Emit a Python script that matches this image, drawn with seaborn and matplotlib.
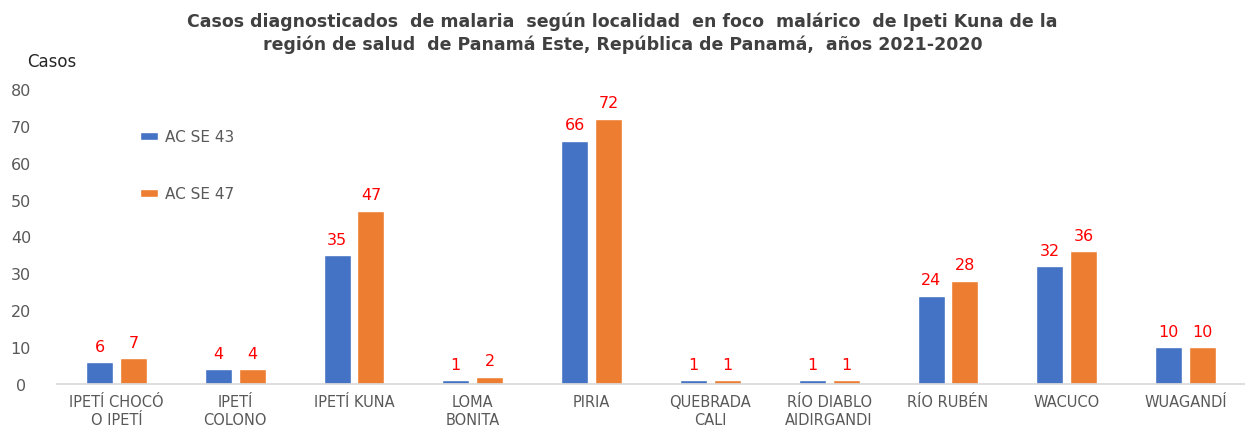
import matplotlib
matplotlib.use("Agg")
import matplotlib.pyplot as plt
import seaborn as sns
import pandas as pd

categories = ["IPETÍ CHOCÓ\nO IPETÍ", "IPETÍ\nCOLONO", "IPETÍ KUNA", "LOMA\nBONITA", "PIRIA",
              "QUEBRADA\nCALI", "RÍO DIABLO\nAIDIRGANDI", "RÍO RUBÉN", "WACUCO", "WUAGANDÍ"]
series_names = ["AC SE 43", "AC SE 47"]
se43 = [6, 4, 35, 1, 66, 1, 1, 24, 32, 10]
se47 = [7, 4, 47, 2, 72, 1, 1, 28, 36, 10]
yticks = [0, 10, 20, 30, 40, 50, 60, 70, 80]

df = pd.DataFrame({
    "Localidad": categories * 2,
    "Serie": [series_names[0]] * len(categories) + [series_names[1]] * len(categories),
    "Casos": se43 + se47,
})

sns.set_theme(style="white")
plt.rcParams['font.family'] = ['DejaVu Sans']

fig = plt.figure(figsize=(12.45, 4.27), dpi=100)
ax = fig.add_axes([57/1245, 42/427, 1 - 57/1245, 295/427])

sns.barplot(data=df, x="Localidad", y="Casos", hue="Serie", order=categories,
            hue_order=series_names, palette=["#4472C4", "#ED7D31"], saturation=1,
            width=0.57, gap=0.2, ax=ax, legend=True)

for cont in ax.containers:
    ax.bar_label(cont, labels=[f"{int(v)}" for v in cont.datavalues], padding=6,
                 color="#FF0000", fontsize=11.5)

ax.set_ylim(0, 80)
ax.set_yticks(yticks)
ax.set_xlabel("")
ax.set_ylabel("")
for s in ["top", "right", "left"]:
    ax.spines[s].set_visible(False)
ax.spines["bottom"].set_color("#D9D9D9")
ax.tick_params(axis="y", colors="#595959", labelsize=11.5, length=0, pad=26)
for lbl in ax.get_yticklabels():
    lbl.set_horizontalalignment("center")
ax.tick_params(axis="x", colors="#595959", labelsize=10.5, length=0, pad=7)
for lbl in ax.get_xticklabels():
    lbl.set_linespacing(1.25)

leg = ax.legend(loc="upper left", bbox_to_anchor=(0.058, 0.91), frameon=False,
                fontsize=11, labelspacing=2.75, handlelength=1.2, handleheight=0.5,
                handletextpad=0.45)
for t in leg.get_texts():
    t.set_color("#595959")

fig.text(27/1245, 1 - 62/427, "Casos", fontsize=12, color="#262626", va="center", ha="left")
fig.text(0.5, 1 - 33/427,
         "Casos diagnosticados  de malaria  según localidad  en foco  malárico  de Ipeti Kuna de la\n"
         "región de salud  de Panamá Este, República de Panamá,  años 2021-2020",
         fontsize=12.5, fontweight="bold", color="#404040", ha="center", va="center", linespacing=1.3)

fig.savefig("out.png", dpi=100)
